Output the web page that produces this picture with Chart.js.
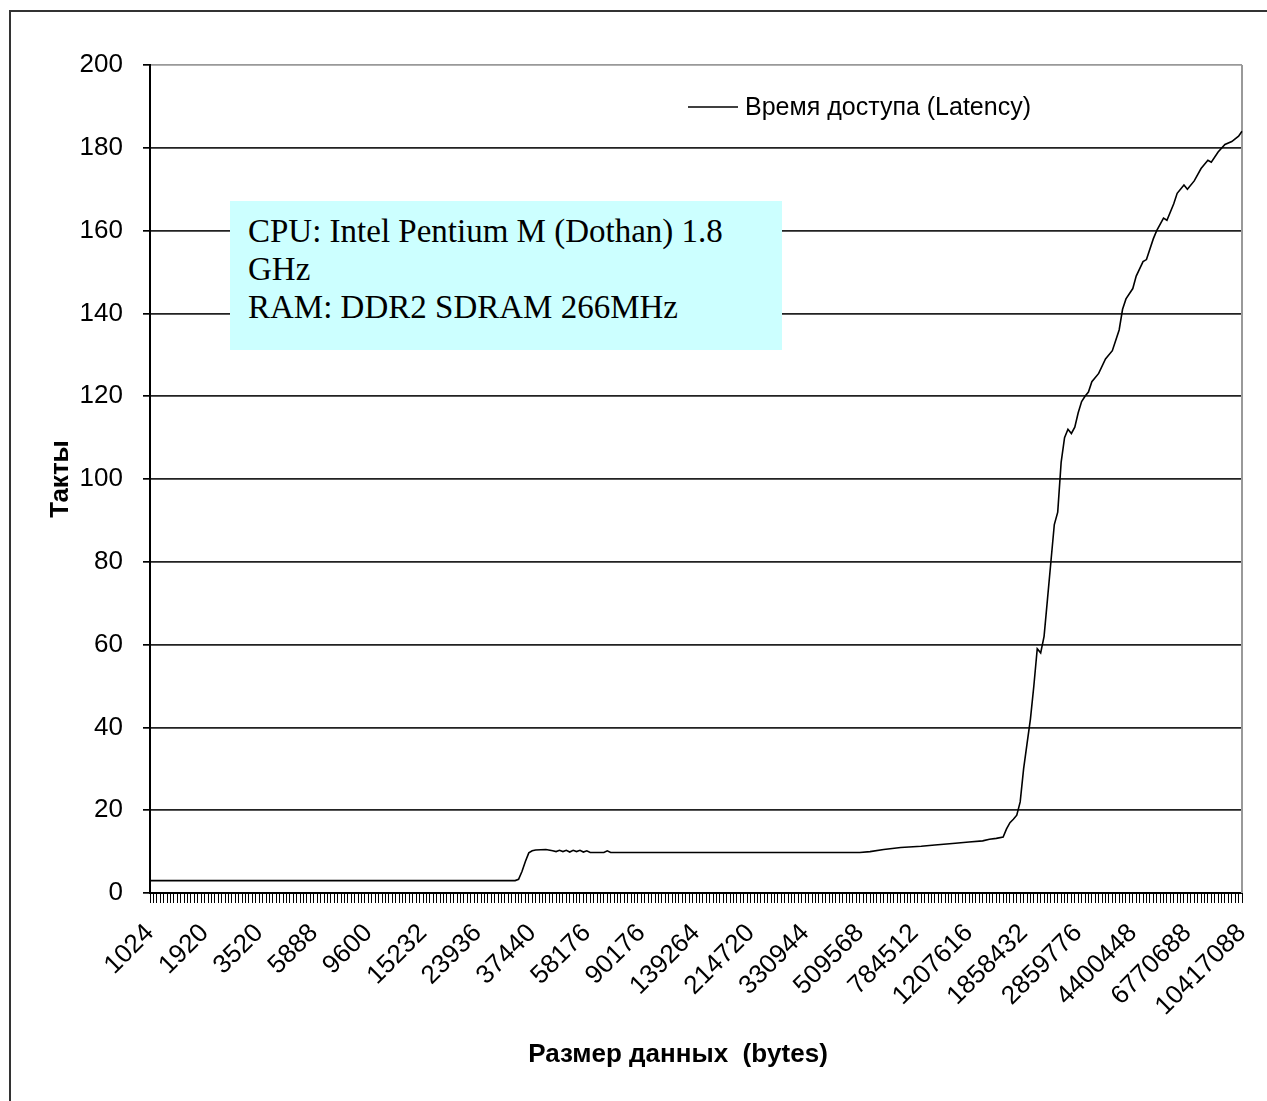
<!DOCTYPE html>
<html>
<head>
<meta charset="utf-8">
<script src="https://cdn.jsdelivr.net/npm/chart.js@4/dist/chart.umd.min.js"></script>
<style>
  html, body { margin: 0; padding: 0; background: #fff; overflow: hidden; }
  #frame { position: absolute; left: 9px; top: 10px; width: 1300px; height: 1200px;
           border: 2px solid #333; box-sizing: border-box; }
  #wrap { position: absolute; left: 0; top: 0; width: 1267px; height: 1101px; }
  #note { position: absolute; left: 230px; top: 201px; width: 552px; height: 149px;
          background: #ccffff; color: #000; box-sizing: border-box; padding: 11px 0 0 18px;
          font-family: "Liberation Serif", "Times New Roman", serif; font-size: 33px;
          line-height: 38px; white-space: pre; }
</style>
</head>
<body>
<div id="frame"></div>
<div id="wrap">
  <canvas id="c" width="1267" height="1101"></canvas>
  <div id="note">CPU: Intel Pentium M (Dothan) 1.8
GHz
RAM: DDR2 SDRAM 266MHz</div>
</div>
<script>
// Block sizes printed under the axis (one every STEPS_PER_LABEL measurement steps)
const sizeLabels = [1024, 1920, 3520, 5888, 9600, 15232, 23936, 37440, 58176, 90176,
  139264, 214720, 330944, 509568, 784512, 1207616, 1858432, 2859776, 4400448,
  6770688, 10417088];
const STEPS_PER_LABEL = 16;

// Measured latency (clock ticks) at given measurement steps
const pointIndex = [0, 107, 108, 109, 110, 111, 112, 113, 116, 118, 119, 120, 121, 122,
  123, 124, 125, 126, 127, 128, 129, 133, 134, 135, 170, 208, 211, 215, 220, 226, 230,
  236, 240, 244, 246, 248, 250, 251, 252, 253, 254, 255, 256, 257, 258, 259, 260, 261,
  262, 263, 264, 265, 266, 267, 268, 269, 270, 271, 272, 273, 274, 275, 276, 278, 280,
  282, 284, 285, 286, 288, 289, 291, 292, 294, 295, 297, 298, 300, 301, 303, 304, 306,
  308, 310, 311, 313, 315, 317, 319, 320];
const latency = [3.0, 3.0, 3.3, 5.2, 7.6, 9.7, 10.2, 10.4, 10.5, 10.2, 10.0, 10.3, 10.0, 10.3,
  9.9, 10.3, 10.0, 10.3, 9.9, 10.2, 9.8, 9.8, 10.2, 9.8, 9.8, 9.8, 10.0, 10.5, 11.0, 11.3, 11.6,
  12.0, 12.3, 12.6, 13.0, 13.2, 13.5, 15.5, 17.0, 17.8, 18.8, 22, 30, 36, 42, 50, 59, 58,
  62, 71, 80, 89, 92, 104, 110, 112, 111, 112.5, 116, 118.7, 120, 121, 123.5, 125.5, 129,
  131, 136, 141, 143.5, 146, 149, 152.5, 153, 158, 160, 163, 162.5, 166.5, 169, 171, 170, 172,
  175, 177, 176.5, 179, 180.8, 181.5, 182.8, 184];

const yTicks = { min: 0, max: 200, step: 20 };
const seriesName = 'Время доступа (Latency)';
const xTitle = 'Размер данных  (bytes)';
const yTitle = 'Такты';

const SANS = '"Liberation Sans", Arial, Helvetica, sans-serif';

// Category axis: one slot per measurement step, labelled every STEPS_PER_LABEL
const stepCount = (sizeLabels.length - 1) * STEPS_PER_LABEL + 1;
const labels = [];
for (let i = 0; i < stepCount; i++) {
  labels.push(i % STEPS_PER_LABEL === 0 ? String(sizeLabels[i / STEPS_PER_LABEL]) : '');
}
const series = labels.map(() => null);
pointIndex.forEach((k, j) => { series[k] = latency[j]; });

// Plot frame on the right, the legend entry, and the x title (a bit left of centre)
const extras = {
  id: 'extras',
  beforeDatasetsDraw(chart) {
    const { ctx, chartArea: a } = chart;
    ctx.save();
    ctx.strokeStyle = '#999';
    ctx.lineWidth = 2;
    ctx.beginPath();
    ctx.moveTo(a.right, a.top);
    ctx.lineTo(a.right, a.bottom);
    ctx.stroke();
    ctx.restore();
  },
  afterDraw(chart) {
    const { ctx, chartArea: a } = chart;
    const x0 = a.left + 538, y0 = a.top + 42;
    ctx.save();
    ctx.strokeStyle = '#000';
    ctx.lineWidth = 1.5;
    ctx.beginPath();
    ctx.moveTo(x0, y0);
    ctx.lineTo(x0 + 50, y0);
    ctx.stroke();
    ctx.fillStyle = '#000';
    ctx.font = '25px ' + SANS;
    ctx.textBaseline = 'middle';
    ctx.fillText(chart.data.datasets[0].label, x0 + 57, y0 + 1);

    ctx.font = 'bold 26px ' + SANS;
    ctx.textAlign = 'center';
    ctx.fillText(xTitle, (a.left + a.right) / 2 - 18, 1055);
    ctx.restore();
  }
};

new Chart(document.getElementById('c'), {
  type: 'line',
  data: {
    labels: labels,
    datasets: [{
      label: seriesName,
      data: series,
      borderColor: '#000',
      borderWidth: 1.6,
      pointRadius: 0,
      tension: 0,
      spanGaps: true,
      fill: false
    }]
  },
  options: {
    responsive: false,
    animation: false,
    layout: { padding: { left: 0, top: 65, right: 25, bottom: 0 } },
    plugins: { legend: { display: false }, tooltip: { enabled: false } },
    scales: {
      x: {
        type: 'category',
        offset: false,
        grid: { drawOnChartArea: false, drawTicks: true, tickLength: 10, color: '#000', lineWidth: 1 },
        border: { display: true, color: '#000', width: 2 },
        ticks: { autoSkip: false, minRotation: 45, maxRotation: 45, padding: 15, color: '#000',
                 font: { family: SANS, size: 26 } },
        title: { display: false },
        afterFit(scale) { scale.height = 208; scale.paddingRight = 0; scale.paddingLeft = 0; }
      },
      y: {
        min: yTicks.min,
        max: yTicks.max,
        ticks: { stepSize: yTicks.step, padding: 20, color: '#000', font: { family: SANS, size: 26 } },
        grid: {
          color: (c) => (c.tick && c.tick.value === yTicks.max ? '#999' : '#222'),
          lineWidth: 1.7, drawTicks: true, tickLength: 7, tickColor: '#000'
        },
        border: { display: true, color: '#000', width: 2 },
        title: { display: true, text: yTitle, color: '#000',
                 font: { family: SANS, size: 26, weight: 'bold' }, padding: { top: 45, bottom: 0 } },
        afterFit(scale) { scale.width = 150; }
      }
    }
  },
  plugins: [extras]
});
</script>
</body>
</html>
